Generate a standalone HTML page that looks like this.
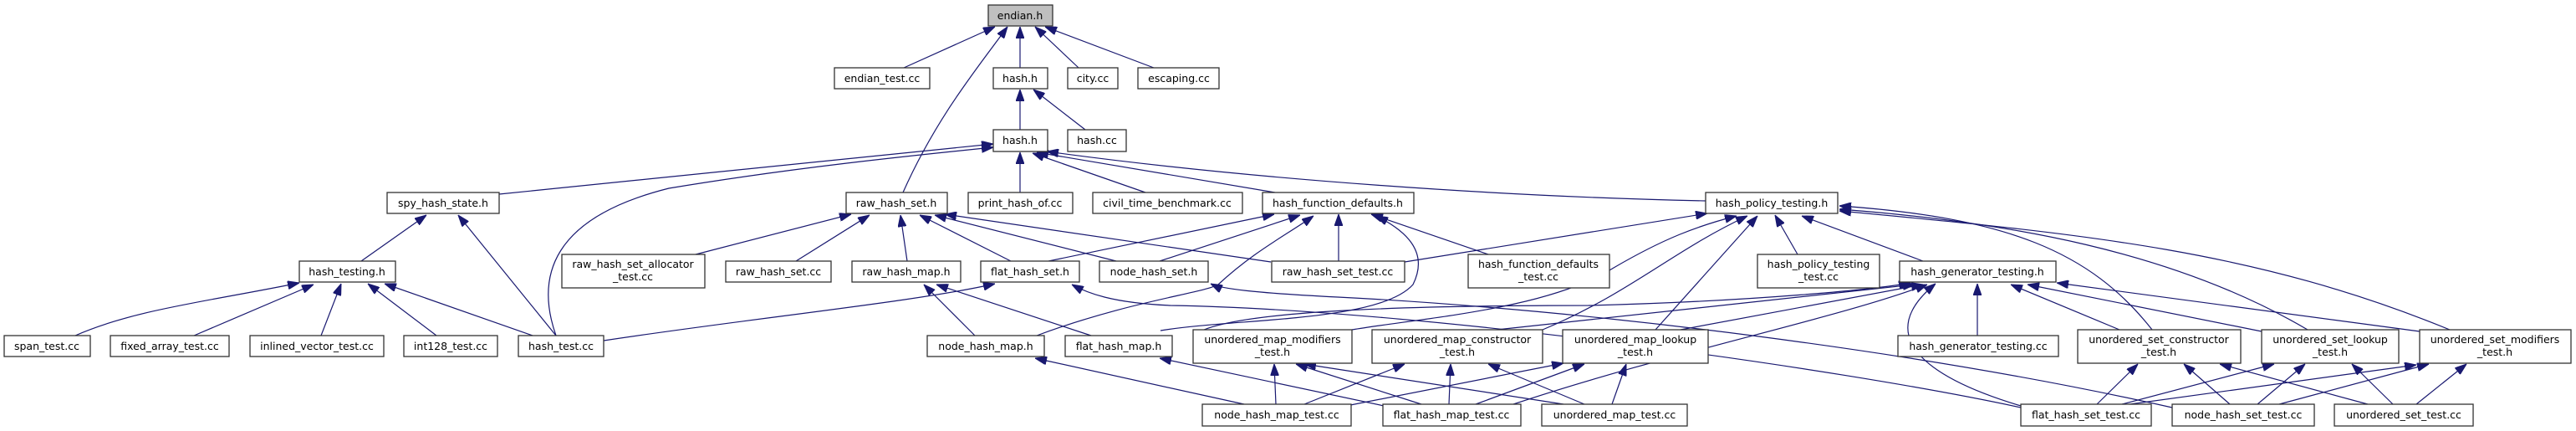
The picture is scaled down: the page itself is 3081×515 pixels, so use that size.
<!DOCTYPE html>
<html><head><meta charset="utf-8"><style>
html,body{margin:0;padding:0;background:#fff;}
svg{display:block;}
text{font-family:"DejaVu Sans","Liberation Sans",sans-serif;font-size:12.5px;fill:#000;text-anchor:middle;}
rect{fill:#fff;stroke:#333;stroke-width:1.3;}
path{fill:none;stroke:#191970;stroke-width:1.2;}
</style></head><body>
<svg width="3081" height="515" viewBox="0 0 3081 515" xmlns="http://www.w3.org/2000/svg">
<defs><marker id="a" markerUnits="userSpaceOnUse" markerWidth="14" markerHeight="10" refX="14" refY="5" orient="auto"><path d="M0,0 L14,5 L0,10 z" style="fill:#191970;stroke:#191970;stroke-width:1"/></marker></defs>
<g marker-end="url(#a)">
<path d="M1081,81 L1190,32"/>
<path d="M1220,81 L1220,32"/>
<path d="M1290,81 L1238,32"/>
<path d="M1380,81 L1250,32"/>
<path d="M1080,230 C1120,140 1170,80 1205,32"/>
<path d="M1220,155 L1220,107"/>
<path d="M1298,155 L1236,107"/>
<path d="M597,232 L1188,172"/>
<path d="M665,401 C640,330 660,260 800,225 C950,200 1100,185 1188,176"/>
<path d="M1220,230 L1220,182"/>
<path d="M1370,230 L1235,183"/>
<path d="M1525,230 L1240,182"/>
<path d="M2040,240 C1800,235 1500,215 1252,181"/>
<path d="M432,312 L510,257"/>
<path d="M665,401 L548,257"/>
<path d="M90,401 C160,370 250,360 358,338"/>
<path d="M232,401 L375,340"/>
<path d="M384,401 L408,339"/>
<path d="M522,401 L440,339"/>
<path d="M637,401 L460,339"/>
<path d="M832,304 L1018,256"/>
<path d="M952,312 L1040,257"/>
<path d="M1085,312 L1077,257"/>
<path d="M1209,312 L1100,257"/>
<path d="M1335,312 L1118,257"/>
<path d="M1520,313 L1130,256"/>
<path d="M1254,312 L1524,256"/>
<path d="M1387,312 L1555,257"/>
<path d="M1601,312 L1601,256"/>
<path d="M1780,304 L1640,256"/>
<path d="M1240,401 C1350,360 1440,350 1457,340 C1500,300 1540,280 1571,258"/>
<path d="M1388,395 C1480,380 1650,385 1690,340 C1710,300 1680,275 1646,258"/>
<path d="M1166,401 L1105,340"/>
<path d="M1305,401 L1120,340"/>
<path d="M722,407 C900,380 1100,360 1190,339"/>
<path d="M2417,487 C2200,440 1700,370 1400,365 C1330,362 1300,350 1282,340"/>
<path d="M2598,487 C2300,420 1900,370 1600,355 C1500,350 1460,345 1448,339"/>
<path d="M1680,313 L2042,255"/>
<path d="M1617,394 C1700,380 1850,370 1930,320 C1990,285 2030,270 2077,258"/>
<path d="M1845,394 C1950,350 2000,300 2090,258"/>
<path d="M1980,394 L2102,258"/>
<path d="M2150,304 L2123,257"/>
<path d="M2300,312 L2155,258"/>
<path d="M2574,394 C2500,300 2400,260 2200,246"/>
<path d="M2760,394 C2600,300 2400,265 2200,250"/>
<path d="M2930,394 C2700,300 2500,280 2200,252"/>
<path d="M1440,394 C1500,370 1700,365 1900,365 C2100,360 2250,345 2285,338"/>
<path d="M1790,394 L2290,340"/>
<path d="M2010,394 L2300,340"/>
<path d="M1810,483 C2000,420 2200,380 2305,340"/>
<path d="M2417,485 C2300,450 2240,400 2315,339"/>
<path d="M2365,401 L2365,339"/>
<path d="M2535,394 L2405,340"/>
<path d="M2705,396 L2425,340"/>
<path d="M2894,396 L2460,338"/>
<path d="M1488,483 L1238,428"/>
<path d="M1660,486 L1387,428"/>
<path d="M1526,483 L1524,435"/>
<path d="M1700,483 L1550,435"/>
<path d="M1870,483 L1560,435"/>
<path d="M1560,483 L1680,435"/>
<path d="M1733,483 L1735,435"/>
<path d="M1895,483 L1780,435"/>
<path d="M1610,485 L1870,434"/>
<path d="M1765,483 L1895,435"/>
<path d="M1928,483 L1945,435"/>
<path d="M2508,483 L2557,435"/>
<path d="M2667,483 L2612,435"/>
<path d="M2832,483 L2655,435"/>
<path d="M2538,483 L2720,435"/>
<path d="M2700,483 L2757,435"/>
<path d="M2862,483 L2813,435"/>
<path d="M2540,484 L2890,436"/>
<path d="M2726,483 L2905,435"/>
<path d="M2890,483 L2950,435"/>
</g>
<g>
<rect x="1182" y="6" width="77" height="25" style="fill:#bfbfbf"/><text x="1220" y="23">endian.h</text>
<rect x="998" y="81" width="114" height="25"/><text x="1055" y="98">endian_test.cc</text>
<rect x="1188" y="81" width="65" height="25"/><text x="1220" y="98">hash.h</text>
<rect x="1277" y="81" width="60" height="25"/><text x="1307" y="98">city.cc</text>
<rect x="1361" y="81" width="97" height="25"/><text x="1410" y="98">escaping.cc</text>
<rect x="1188" y="155" width="65" height="26"/><text x="1220" y="172">hash.h</text>
<rect x="1277" y="155" width="70" height="26"/><text x="1312" y="172">hash.cc</text>
<rect x="463" y="230" width="134" height="25"/><text x="530" y="247">spy_hash_state.h</text>
<rect x="1012" y="230" width="121" height="25"/><text x="1072" y="247">raw_hash_set.h</text>
<rect x="1158" y="230" width="125" height="25"/><text x="1220" y="247">print_hash_of.cc</text>
<rect x="1307" y="230" width="179" height="25"/><text x="1396" y="247">civil_time_benchmark.cc</text>
<rect x="1510" y="230" width="181" height="25"/><text x="1600" y="247">hash_function_defaults.h</text>
<rect x="2040" y="230" width="158" height="25"/><text x="2119" y="247">hash_policy_testing.h</text>
<rect x="358" y="312" width="115" height="25"/><text x="415" y="329">hash_testing.h</text>
<rect x="672" y="304" width="171" height="40"/><text x="757" y="320">raw_hash_set_allocator</text><text x="757" y="335">_test.cc</text>
<rect x="868" y="312" width="126" height="25"/><text x="931" y="329">raw_hash_set.cc</text>
<rect x="1019" y="312" width="130" height="25"/><text x="1084" y="329">raw_hash_map.h</text>
<rect x="1173" y="312" width="118" height="25"/><text x="1232" y="329">flat_hash_set.h</text>
<rect x="1315" y="312" width="130" height="25"/><text x="1380" y="329">node_hash_set.h</text>
<rect x="1521" y="312" width="159" height="25"/><text x="1600" y="329">raw_hash_set_test.cc</text>
<rect x="1756" y="304" width="169" height="40"/><text x="1840" y="320">hash_function_defaults</text><text x="1840" y="335">_test.cc</text>
<rect x="2102" y="304" width="146" height="40"/><text x="2175" y="320">hash_policy_testing</text><text x="2175" y="335">_test.cc</text>
<rect x="2272" y="312" width="187" height="25"/><text x="2365" y="329">hash_generator_testing.h</text>
<rect x="5" y="401" width="103" height="25"/><text x="56" y="418">span_test.cc</text>
<rect x="132" y="401" width="142" height="25"/><text x="203" y="418">fixed_array_test.cc</text>
<rect x="299" y="401" width="160" height="25"/><text x="379" y="418">inlined_vector_test.cc</text>
<rect x="483" y="401" width="112" height="25"/><text x="539" y="418">int128_test.cc</text>
<rect x="620" y="401" width="102" height="25"/><text x="671" y="418">hash_test.cc</text>
<rect x="1109" y="401" width="140" height="25"/><text x="1179" y="418">node_hash_map.h</text>
<rect x="1274" y="401" width="128" height="25"/><text x="1338" y="418">flat_hash_map.h</text>
<rect x="1427" y="394" width="190" height="40"/><text x="1522" y="410">unordered_map_modifiers</text><text x="1522" y="425">_test.h</text>
<rect x="1641" y="394" width="204" height="40"/><text x="1743" y="410">unordered_map_constructor</text><text x="1743" y="425">_test.h</text>
<rect x="1869" y="394" width="174" height="40"/><text x="1956" y="410">unordered_map_lookup</text><text x="1956" y="425">_test.h</text>
<rect x="2270" y="401" width="192" height="25"/><text x="2366" y="418">hash_generator_testing.cc</text>
<rect x="2485" y="394" width="195" height="40"/><text x="2582" y="410">unordered_set_constructor</text><text x="2582" y="425">_test.h</text>
<rect x="2705" y="394" width="164" height="40"/><text x="2787" y="410">unordered_set_lookup</text><text x="2787" y="425">_test.h</text>
<rect x="2894" y="394" width="181" height="40"/><text x="2984" y="410">unordered_set_modifiers</text><text x="2984" y="425">_test.h</text>
<rect x="1438" y="483" width="178" height="26"/><text x="1527" y="500">node_hash_map_test.cc</text>
<rect x="1654" y="483" width="165" height="26"/><text x="1736" y="500">flat_hash_map_test.cc</text>
<rect x="1844" y="483" width="174" height="26"/><text x="1931" y="500">unordered_map_test.cc</text>
<rect x="2417" y="483" width="156" height="26"/><text x="2495" y="500">flat_hash_set_test.cc</text>
<rect x="2598" y="483" width="170" height="26"/><text x="2683" y="500">node_hash_set_test.cc</text>
<rect x="2792" y="483" width="166" height="26"/><text x="2875" y="500">unordered_set_test.cc</text>
</g>
</svg>
</body></html>
